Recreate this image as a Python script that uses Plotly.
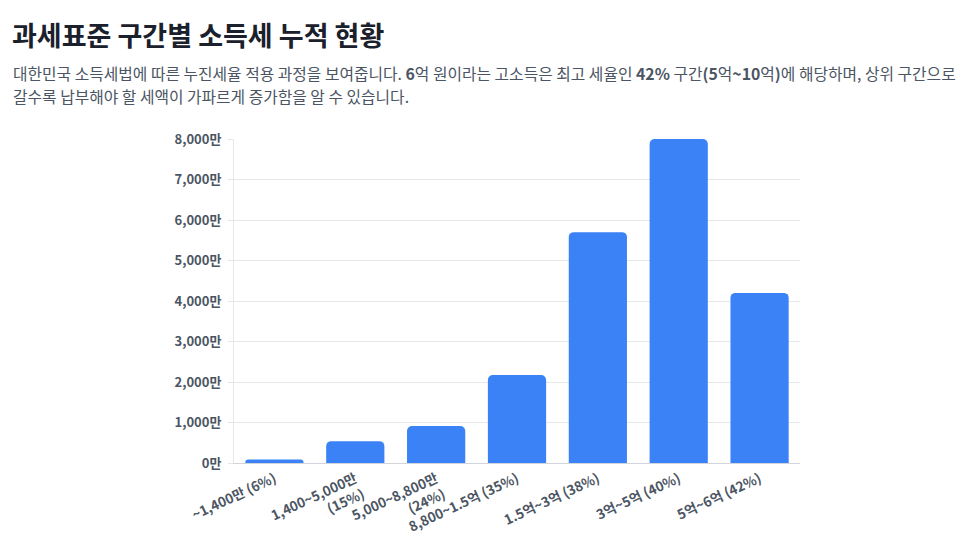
import plotly.graph_objects as go

# Tax per bracket for 6억 income (unit: 만원)
brackets = [
    "~1,400만 (6%)",
    "1,400~5,000만<br>(15%)",
    "5,000~8,800만<br>(24%)",
    "8,800~1.5억 (35%)",
    "1.5억~3억 (38%)",
    "3억~5억 (40%)",
    "5억~6억 (42%)",
]
tax_amounts = [84, 540, 912, 2170, 5700, 8000, 4200]

y_ticks = [0, 1000, 2000, 3000, 4000, 5000, 6000, 7000, 8000]
y_tick_labels = [f"<b>{v:,}만</b>" for v in y_ticks]

subtitle_lines = [
    "대한민국 소득세법에 따른 누진세율 적용 과정을 보여줍니다. <b>6</b>억 원이라는 고소득은 최고 세율인 "
    "<b>42%</b> 구간<b>(5</b>억<b>~10</b>억<b>)</b>에 해당하며, 상위 구간으로",
    "갈수록 납부해야 할 세액이 가파르게 증가함을 알 수 있습니다.",
]

# page has an 8px body margin, so the figure is drawn a bit smaller
OFF = 8
W, H = 975 - 2 * OFF, 547 - 2 * OFF
L, T = 234 - OFF, 139 - OFF
R = W - (800 - OFF)
B = H - (463 - OFF)

font_family = "Noto Sans CJK KR, Noto Sans, sans-serif"

fig = go.Figure()
fig.add_trace(go.Bar(
    x=brackets,
    y=tax_amounts,
    marker=dict(color="#3b82f6", line=dict(width=0)),
    hovertemplate="%{x}<br>%{y:,}만원<extra></extra>",
))

def px_x(px):
    return (px - OFF - L) / (W - L - R)

def px_y(py):
    return 1 - (py - OFF - T) / (H - T - B)

fig.add_annotation(
    text="<b>과세표준 구간별 소득세 누적 현황</b>",
    xref="paper", yref="paper", x=px_x(10), y=px_y(34),
    xanchor="left", yanchor="middle", showarrow=False,
    font=dict(size=27, color="#1a202c", family=font_family),
)
for i, line in enumerate(subtitle_lines):
    fig.add_annotation(
        text=line,
        xref="paper", yref="paper", x=px_x(11), y=px_y(73 + 23 * i),
        xanchor="left", yanchor="middle", align="left", showarrow=False,
        font=dict(size=15.8, color="#4b5563", family=font_family),
    )

fig.update_layout(
    width=W, height=H,
    margin=dict(l=L, r=R, t=T, b=B, autoexpand=False),
    paper_bgcolor="white",
    plot_bgcolor="white",
    showlegend=False,
    bargap=0.28,
    barcornerradius=5,
    font=dict(family=font_family),
    xaxis=dict(
        tickangle=-25,
        tickvals=brackets,
        ticktext=[f"<b>{b}</b>" for b in brackets],
        tickfont=dict(size=13.5, color="#4b5563", family=font_family),
        showgrid=False,
        showline=True, linecolor="#d1d5db", linewidth=1,
        ticks="",
        ticklabelstandoff=2,
        automargin=False,
    ),
    yaxis=dict(
        range=[0, 8000],
        tickvals=y_ticks,
        ticktext=y_tick_labels,
        tickfont=dict(size=13, color="#4b5563", family=font_family),
        showgrid=True, gridcolor="#e5e7eb", gridwidth=1,
        zeroline=False,
        showline=True, linecolor="#e5e7eb", linewidth=1,
        ticks="outside", ticklen=5, tickcolor="#e5e7eb",
        ticklabelstandoff=4,
        automargin=False,
    ),
)

fig.write_html("out.html")
